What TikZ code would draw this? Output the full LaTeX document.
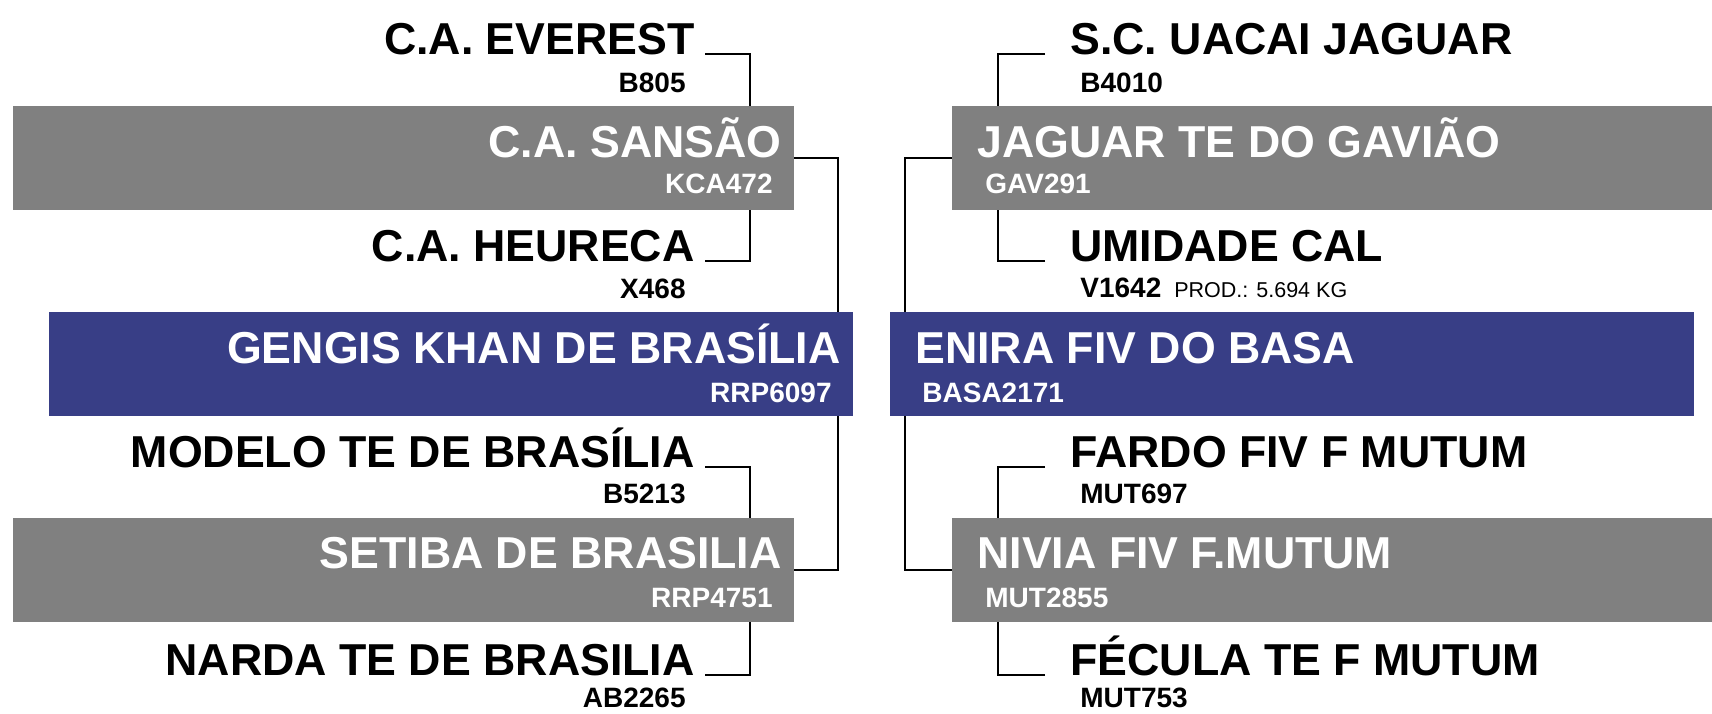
\documentclass[tikz,border=0pt]{standalone}
\usepackage{fontspec}
\setmainfont{Liberation Sans}
\definecolor{boxgrey}{RGB}{128,128,128}
\definecolor{mainblue}{RGB}{56,62,134}
\tikzset{
  animalbox/.style = {rectangle, minimum height=52pt, inner sep=0pt},
  animal/.style = {font=\fontsize{22.35}{26}\selectfont\bfseries, inner sep=0pt},
  lanimal/.style = {animal, anchor=base east, inner xsep=5pt},
  ranimal/.style = {animal, anchor=base west, inner xsep=12.5pt},
  regcode/.style = {font=\fontsize{14}{16}\selectfont\bfseries, inner sep=0pt},
  link/.style = {draw, line width=1pt},
}
\begin{document}
\begin{tikzpicture}[x=0.5pt, y=-0.5pt]
        \useasboundingbox (0, 0) rectangle (1712, 713);
        %boxes
        \node[animalbox, fill=boxgrey, minimum width=390.5pt] (sansao) at (403.5, 158) {};
        \node[animalbox, fill=boxgrey, minimum width=390.5pt] (setiba) at (403.5, 570) {};
        \node[animalbox, fill=mainblue, minimum width=402pt] (gengis) at (451, 364) {};
        \node[animalbox, fill=mainblue, minimum width=402pt] (enira) at (1292, 364) {};
        \node[animalbox, fill=boxgrey, minimum width=380pt] (jaguar) at (1332, 158) {};
        \node[animalbox, fill=boxgrey, minimum width=380pt] (nivia) at (1332, 570) {};
        %left names
        \node[lanimal] (everest) at (705, 54) {C.A. EVEREST};
        \node[regcode, anchor=base east] (everest-reg) at (686, 92) {B805};
        \begin{scope}[every node/.style = {anchor = base east, text = white}]
          \node[animal] (sansao-name) at (782, 157) {C.A. SANSÃO};
          \node[regcode] (sansao-reg) at (773, 193) {KCA472};
          \node[animal] (gengis-name) at (841, 363) {GENGIS KHAN DE BRASÍLIA};
          \node[regcode] (gengis-reg) at (832, 402) {RRP6097};
          \node[animal] (setiba-name) at (782, 568) {SETIBA DE BRASILIA};
          \node[regcode] (setiba-reg) at (773, 607) {RRP4751};
        \end{scope}
        \node[lanimal] (heureca) at (705, 261) {C.A. HEURECA};
        \node[regcode, anchor=base east] (heureca-reg) at (686, 298) {X468};
        \node[lanimal] (modelo) at (705, 467) {MODELO TE DE BRASÍLIA};
        \node[regcode, anchor=base east] (modelo-reg) at (686, 503) {B5213};
        \node[lanimal] (narda) at (705, 675) {NARDA TE DE BRASILIA};
        \node[regcode, anchor=base east] (narda-reg) at (686, 707) {AB2265};
        %right names
        \node[ranimal] (uacai) at (1045, 54) {S.C. UACAI JAGUAR};
        \node[regcode, anchor=base west] (uacai-reg) at (1080, 92) {B4010};
        \begin{scope}[every node/.style = {anchor = base west, text = white}]
          \node[animal] (jaguar-name) at (977, 157) {JAGUAR TE DO GAVIÃO};
          \node[regcode] (jaguar-reg) at (985, 193) {GAV291};
          \node[animal] (enira-name) at (915, 363) {ENIRA FIV DO BASA};
          \node[regcode] (enira-reg) at (922, 402) {BASA2171};
          \node[animal] (nivia-name) at (977, 568) {NIVIA FIV F.MUTUM};
          \node[regcode] (nivia-reg) at (985, 607) {MUT2855};
        \end{scope}
        \node[ranimal] (umidade) at (1045, 261) {UMIDADE CAL};
        \node[regcode, anchor=base west] (umidade-reg) at (1080, 297)
          {V1642\hspace{6.5pt}{\fontsize{10.75}{12}\selectfont\mdseries PROD.: 5.694 KG}};
        \node[ranimal] (fardo) at (1045, 467) {FARDO FIV F MUTUM};
        \node[regcode, anchor=base west] (fardo-reg) at (1080, 503) {MUT697};
        \node[ranimal] (fecula) at (1045, 675) {FÉCULA TE F MUTUM};
        \node[regcode, anchor=base west] (fecula-reg) at (1080, 707) {MUT753};
        %edges
        \coordinate (lin) at (750, 0);
        \coordinate (lout) at (838, 0);
        \coordinate (rout) at (905, 0);
        \coordinate (rin) at (998, 0);
        \path [link] (everest.base east) -| (lin |- sansao.north);
        \path [link] (heureca.base east) -| (lin |- sansao.south);
        \path [link] (modelo.base east) -| (lin |- setiba.north);
        \path [link] (narda.base east) -| (lin |- setiba.south);
        \path [link] (sansao.east) -| (lout |- gengis.north);
        \path [link] (setiba.east) -| (lout |- gengis.south);
        \path [link] (uacai.base west) -| (rin |- jaguar.north);
        \path [link] (umidade.base west) -| (rin |- jaguar.south);
        \path [link] (fardo.base west) -| (rin |- nivia.north);
        \path [link] (fecula.base west) -| (rin |- nivia.south);
        \path [link] (jaguar.west) -| (rout |- enira.north);
        \path [link] (nivia.west) -| (rout |- enira.south);
      \end{tikzpicture}
\end{document}
